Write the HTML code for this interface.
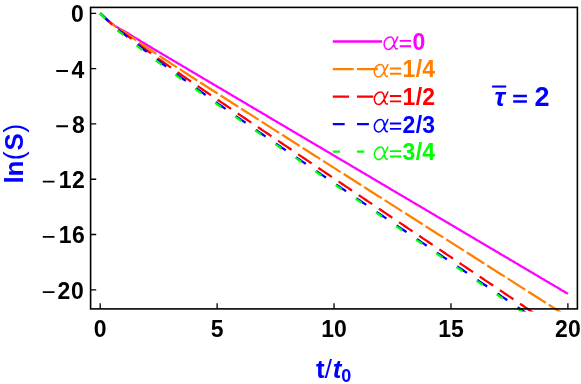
<!DOCTYPE html>
<html><head><meta charset="utf-8"><title>ln(S) vs t/t0</title>
<style>
html,body{margin:0;padding:0;background:#fff;}
body{width:581px;height:384px;overflow:hidden;font-family:"Liberation Sans",sans-serif;}
svg{display:block;will-change:transform;transform:translateZ(0);}
</style></head><body>
<svg width="581" height="384" viewBox="0 0 581 384">
<rect width="581" height="384" fill="#fff"/>
<defs><clipPath id="c"><rect x="90.6" y="7.4" width="486.8" height="304.0"/></clipPath></defs>
<g clip-path="url(#c)" fill="none" stroke-width="2.25" stroke-linecap="butt" stroke-linejoin="round">
<polyline stroke="#ff00ff" points="100.20,13.40 101.37,14.45 102.54,15.49 103.71,16.53 104.88,17.57 106.05,18.61 107.22,19.64 108.38,20.67 109.55,21.69 110.72,22.67 111.89,23.62 113.06,24.52 114.23,25.37 115.40,26.16 116.57,26.89 117.74,27.59 118.91,28.25 120.08,28.89 121.25,29.52 122.42,30.16 123.59,30.81 124.75,31.47 125.92,32.15 127.09,32.84 128.26,33.54 129.43,34.25 130.60,34.97 131.77,35.68 132.94,36.40 134.11,37.12 135.28,37.84 136.45,38.55 137.62,39.26 138.79,39.98 139.95,40.69 141.12,41.40 142.29,42.10 143.46,42.81 144.63,43.51 145.80,44.22 146.97,44.92 148.14,45.62 149.31,46.32 150.48,47.02 151.65,47.72 152.82,48.42 153.99,49.12 155.15,49.81 156.32,50.51 157.49,51.21 158.66,51.90 159.83,52.60 161.00,53.29 162.17,53.99 163.34,54.68 164.51,55.38 165.68,56.07 166.85,56.77 168.02,57.46 169.19,58.15 170.36,58.84 171.52,59.54 172.69,60.23 173.86,60.92 175.03,61.62 176.20,62.31 177.37,63.00 178.54,63.69 179.71,64.38 180.88,65.08 182.05,65.77 183.22,66.46 184.39,67.15 185.56,67.84 186.72,68.53 187.89,69.23 189.06,69.92 190.23,70.61 191.40,71.30 192.57,71.99 193.74,72.68 194.91,73.38 196.08,74.07 197.25,74.76 198.42,75.45 199.59,76.14 200.76,76.83 201.92,77.52 203.09,78.21 204.26,78.90 205.43,79.60 206.60,80.29 207.77,80.98 208.94,81.67 210.11,82.36 211.28,83.05 212.45,83.74 213.62,84.43 214.79,85.12 215.96,85.82 217.12,86.51 218.29,87.20 219.46,87.89 220.63,88.58 221.80,89.27 222.97,89.96 224.14,90.65 225.31,91.34 226.48,92.04 227.65,92.73 228.82,93.42 229.99,94.11 231.16,94.80 232.33,95.49 233.49,96.18 234.66,96.87 235.83,97.56 237.00,98.25 238.17,98.95 239.34,99.64 240.51,100.33 241.68,101.02 242.85,101.71 244.02,102.40 245.19,103.09 246.36,103.78 247.53,104.47 248.69,105.16 249.86,105.86 251.03,106.55 252.20,107.24 253.37,107.93 254.54,108.62 255.71,109.31 256.88,110.00 258.05,110.69 259.22,111.38 260.39,112.07 261.56,112.77 262.73,113.46 263.90,114.15 265.06,114.84 266.23,115.53 267.40,116.22 268.57,116.91 269.74,117.60 270.91,118.29 272.08,118.98 273.25,119.68 274.42,120.37 275.59,121.06 276.76,121.75 277.93,122.44 279.10,123.13 280.26,123.82 281.43,124.51 282.60,125.20 283.77,125.89 284.94,126.59 286.11,127.28 287.28,127.97 288.45,128.66 289.62,129.35 290.79,130.04 291.96,130.73 293.13,131.42 294.30,132.11 295.46,132.80 296.63,133.50 297.80,134.19 298.97,134.88 300.14,135.57 301.31,136.26 302.48,136.95 303.65,137.64 304.82,138.33 305.99,139.02 307.16,139.71 308.33,140.41 309.50,141.10 310.67,141.79 311.83,142.48 313.00,143.17 314.17,143.86 315.34,144.55 316.51,145.24 317.68,145.93 318.85,146.62 320.02,147.32 321.19,148.01 322.36,148.70 323.53,149.39 324.70,150.08 325.87,150.77 327.03,151.46 328.20,152.15 329.37,152.84 330.54,153.53 331.71,154.23 332.88,154.92 334.05,155.61 335.22,156.30 336.39,156.99 337.56,157.68 338.73,158.37 339.90,159.06 341.07,159.75 342.23,160.44 343.40,161.14 344.57,161.83 345.74,162.52 346.91,163.21 348.08,163.90 349.25,164.59 350.42,165.28 351.59,165.97 352.76,166.66 353.93,167.35 355.10,168.05 356.27,168.74 357.44,169.43 358.60,170.12 359.77,170.81 360.94,171.50 362.11,172.19 363.28,172.88 364.45,173.57 365.62,174.26 366.79,174.96 367.96,175.65 369.13,176.34 370.30,177.03 371.47,177.72 372.64,178.41 373.80,179.10 374.97,179.79 376.14,180.48 377.31,181.17 378.48,181.87 379.65,182.56 380.82,183.25 381.99,183.94 383.16,184.63 384.33,185.32 385.50,186.01 386.67,186.70 387.84,187.39 389.00,188.08 390.17,188.78 391.34,189.47 392.51,190.16 393.68,190.85 394.85,191.54 396.02,192.23 397.19,192.92 398.36,193.61 399.53,194.30 400.70,194.99 401.87,195.69 403.04,196.38 404.20,197.07 405.37,197.76 406.54,198.45 407.71,199.14 408.88,199.83 410.05,200.52 411.22,201.21 412.39,201.90 413.56,202.60 414.73,203.29 415.90,203.98 417.07,204.67 418.24,205.36 419.41,206.05 420.57,206.74 421.74,207.43 422.91,208.12 424.08,208.81 425.25,209.51 426.42,210.20 427.59,210.89 428.76,211.58 429.93,212.27 431.10,212.96 432.27,213.65 433.44,214.34 434.61,215.03 435.77,215.72 436.94,216.42 438.11,217.11 439.28,217.80 440.45,218.49 441.62,219.18 442.79,219.87 443.96,220.56 445.13,221.25 446.30,221.94 447.47,222.63 448.64,223.33 449.81,224.02 450.98,224.71 452.14,225.40 453.31,226.09 454.48,226.78 455.65,227.47 456.82,228.16 457.99,228.85 459.16,229.54 460.33,230.24 461.50,230.93 462.67,231.62 463.84,232.31 465.01,233.00 466.18,233.69 467.34,234.38 468.51,235.07 469.68,235.76 470.85,236.45 472.02,237.15 473.19,237.84 474.36,238.53 475.53,239.22 476.70,239.91 477.87,240.60 479.04,241.29 480.21,241.98 481.38,242.67 482.54,243.36 483.71,244.06 484.88,244.75 486.05,245.44 487.22,246.13 488.39,246.82 489.56,247.51 490.73,248.20 491.90,248.89 493.07,249.58 494.24,250.27 495.41,250.97 496.58,251.66 497.75,252.35 498.91,253.04 500.08,253.73 501.25,254.42 502.42,255.11 503.59,255.80 504.76,256.49 505.93,257.18 507.10,257.88 508.27,258.57 509.44,259.26 510.61,259.95 511.78,260.64 512.95,261.33 514.11,262.02 515.28,262.71 516.45,263.40 517.62,264.09 518.79,264.79 519.96,265.48 521.13,266.17 522.30,266.86 523.47,267.55 524.64,268.24 525.81,268.93 526.98,269.62 528.15,270.31 529.31,271.00 530.48,271.70 531.65,272.39 532.82,273.08 533.99,273.77 535.16,274.46 536.33,275.15 537.50,275.84 538.67,276.53 539.84,277.22 541.01,277.91 542.18,278.61 543.35,279.30 544.52,279.99 545.68,280.68 546.85,281.37 548.02,282.06 549.19,282.75 550.36,283.44 551.53,284.13 552.70,284.82 553.87,285.52 555.04,286.21 556.21,286.90 557.38,287.59 558.55,288.28 559.72,288.97 560.88,289.66 562.05,290.35 563.22,291.04 564.39,291.73 565.56,292.43 566.73,293.12 567.90,293.81"/>
<polyline stroke="#ff8000" stroke-dasharray="20.8 3.52" points="100.20,13.40 101.37,14.39 102.54,15.40 103.71,16.41 104.88,17.44 106.05,18.49 107.22,19.54 108.38,20.60 109.55,21.65 110.72,22.68 111.89,23.68 113.06,24.64 114.23,25.55 115.40,26.41 116.57,27.22 117.74,27.99 118.91,28.73 120.08,29.46 121.25,30.18 122.42,30.90 123.59,31.64 124.75,32.40 125.92,33.16 127.09,33.95 128.26,34.74 129.43,35.55 130.60,36.35 131.77,37.17 132.94,37.98 134.11,38.79 135.28,39.60 136.45,40.41 137.62,41.21 138.79,42.02 139.95,42.82 141.12,43.62 142.29,44.41 143.46,45.21 144.63,46.00 145.80,46.79 146.97,47.58 148.14,48.37 149.31,49.15 150.48,49.94 151.65,50.72 152.82,51.50 153.99,52.28 155.15,53.06 156.32,53.83 157.49,54.61 158.66,55.38 159.83,56.16 161.00,56.93 162.17,57.70 163.34,58.47 164.51,59.24 165.68,60.01 166.85,60.77 168.02,61.54 169.19,62.30 170.36,63.07 171.52,63.83 172.69,64.59 173.86,65.36 175.03,66.12 176.20,66.88 177.37,67.64 178.54,68.40 179.71,69.16 180.88,69.92 182.05,70.67 183.22,71.43 184.39,72.19 185.56,72.95 186.72,73.70 187.89,74.46 189.06,75.21 190.23,75.97 191.40,76.72 192.57,77.48 193.74,78.23 194.91,78.98 196.08,79.74 197.25,80.49 198.42,81.24 199.59,81.99 200.76,82.74 201.92,83.50 203.09,84.25 204.26,85.00 205.43,85.75 206.60,86.50 207.77,87.25 208.94,88.00 210.11,88.75 211.28,89.50 212.45,90.25 213.62,91.00 214.79,91.75 215.96,92.50 217.12,93.25 218.29,93.99 219.46,94.74 220.63,95.49 221.80,96.24 222.97,96.99 224.14,97.74 225.31,98.48 226.48,99.23 227.65,99.98 228.82,100.73 229.99,101.48 231.16,102.22 232.33,102.97 233.49,103.72 234.66,104.47 235.83,105.21 237.00,105.96 238.17,106.71 239.34,107.45 240.51,108.20 241.68,108.95 242.85,109.69 244.02,110.44 245.19,111.19 246.36,111.93 247.53,112.68 248.69,113.43 249.86,114.17 251.03,114.92 252.20,115.67 253.37,116.41 254.54,117.16 255.71,117.90 256.88,118.65 258.05,119.40 259.22,120.14 260.39,120.89 261.56,121.63 262.73,122.38 263.90,123.13 265.06,123.87 266.23,124.62 267.40,125.36 268.57,126.11 269.74,126.86 270.91,127.60 272.08,128.35 273.25,129.09 274.42,129.84 275.59,130.58 276.76,131.33 277.93,132.08 279.10,132.82 280.26,133.57 281.43,134.31 282.60,135.06 283.77,135.80 284.94,136.55 286.11,137.30 287.28,138.04 288.45,138.79 289.62,139.53 290.79,140.28 291.96,141.02 293.13,141.77 294.30,142.51 295.46,143.26 296.63,144.00 297.80,144.75 298.97,145.50 300.14,146.24 301.31,146.99 302.48,147.73 303.65,148.48 304.82,149.22 305.99,149.97 307.16,150.71 308.33,151.46 309.50,152.20 310.67,152.95 311.83,153.70 313.00,154.44 314.17,155.19 315.34,155.93 316.51,156.68 317.68,157.42 318.85,158.17 320.02,158.91 321.19,159.66 322.36,160.40 323.53,161.15 324.70,161.89 325.87,162.64 327.03,163.38 328.20,164.13 329.37,164.88 330.54,165.62 331.71,166.37 332.88,167.11 334.05,167.86 335.22,168.60 336.39,169.35 337.56,170.09 338.73,170.84 339.90,171.58 341.07,172.33 342.23,173.07 343.40,173.82 344.57,174.56 345.74,175.31 346.91,176.05 348.08,176.80 349.25,177.55 350.42,178.29 351.59,179.04 352.76,179.78 353.93,180.53 355.10,181.27 356.27,182.02 357.44,182.76 358.60,183.51 359.77,184.25 360.94,185.00 362.11,185.74 363.28,186.49 364.45,187.23 365.62,187.98 366.79,188.72 367.96,189.47 369.13,190.21 370.30,190.96 371.47,191.71 372.64,192.45 373.80,193.20 374.97,193.94 376.14,194.69 377.31,195.43 378.48,196.18 379.65,196.92 380.82,197.67 381.99,198.41 383.16,199.16 384.33,199.90 385.50,200.65 386.67,201.39 387.84,202.14 389.00,202.88 390.17,203.63 391.34,204.37 392.51,205.12 393.68,205.87 394.85,206.61 396.02,207.36 397.19,208.10 398.36,208.85 399.53,209.59 400.70,210.34 401.87,211.08 403.04,211.83 404.20,212.57 405.37,213.32 406.54,214.06 407.71,214.81 408.88,215.55 410.05,216.30 411.22,217.04 412.39,217.79 413.56,218.53 414.73,219.28 415.90,220.02 417.07,220.77 418.24,221.52 419.41,222.26 420.57,223.01 421.74,223.75 422.91,224.50 424.08,225.24 425.25,225.99 426.42,226.73 427.59,227.48 428.76,228.22 429.93,228.97 431.10,229.71 432.27,230.46 433.44,231.20 434.61,231.95 435.77,232.69 436.94,233.44 438.11,234.18 439.28,234.93 440.45,235.67 441.62,236.42 442.79,237.17 443.96,237.91 445.13,238.66 446.30,239.40 447.47,240.15 448.64,240.89 449.81,241.64 450.98,242.38 452.14,243.13 453.31,243.87 454.48,244.62 455.65,245.36 456.82,246.11 457.99,246.85 459.16,247.60 460.33,248.34 461.50,249.09 462.67,249.83 463.84,250.58 465.01,251.33 466.18,252.07 467.34,252.82 468.51,253.56 469.68,254.31 470.85,255.05 472.02,255.80 473.19,256.54 474.36,257.29 475.53,258.03 476.70,258.78 477.87,259.52 479.04,260.27 480.21,261.01 481.38,261.76 482.54,262.50 483.71,263.25 484.88,263.99 486.05,264.74 487.22,265.48 488.39,266.23 489.56,266.98 490.73,267.72 491.90,268.47 493.07,269.21 494.24,269.96 495.41,270.70 496.58,271.45 497.75,272.19 498.91,272.94 500.08,273.68 501.25,274.43 502.42,275.17 503.59,275.92 504.76,276.66 505.93,277.41 507.10,278.15 508.27,278.90 509.44,279.64 510.61,280.39 511.78,281.13 512.95,281.88 514.11,282.63 515.28,283.37 516.45,284.12 517.62,284.86 518.79,285.61 519.96,286.35 521.13,287.10 522.30,287.84 523.47,288.59 524.64,289.33 525.81,290.08 526.98,290.82 528.15,291.57 529.31,292.31 530.48,293.06 531.65,293.80 532.82,294.55 533.99,295.29 535.16,296.04 536.33,296.78 537.50,297.53 538.67,298.28 539.84,299.02 541.01,299.77 542.18,300.51 543.35,301.26 544.52,302.00 545.68,302.75 546.85,303.49 548.02,304.24 549.19,304.98 550.36,305.73 551.53,306.47 552.70,307.22 553.87,307.96 555.04,308.71 556.21,309.45 557.38,310.20 558.55,310.94 559.72,311.69 560.88,312.44 562.05,313.18 563.22,313.93 564.39,314.67 565.56,315.42 566.73,316.16 567.90,316.91"/>
<polyline stroke="#ff0000" stroke-dasharray="16.3 8.02" points="100.20,13.40 101.37,14.46 102.54,15.52 103.71,16.60 104.88,17.70 106.05,18.81 107.22,19.93 108.38,21.06 109.55,22.18 110.72,23.28 111.89,24.35 113.06,25.38 114.23,26.36 115.40,27.29 116.57,28.18 117.74,29.02 118.91,29.83 120.08,30.63 121.25,31.42 122.42,32.22 123.59,33.03 124.75,33.86 125.92,34.70 127.09,35.56 128.26,36.42 129.43,37.30 130.60,38.18 131.77,39.06 132.94,39.94 134.11,40.82 135.28,41.70 136.45,42.58 137.62,43.46 138.79,44.33 139.95,45.20 141.12,46.07 142.29,46.94 143.46,47.80 144.63,48.66 145.80,49.52 146.97,50.37 148.14,51.23 149.31,52.08 150.48,52.93 151.65,53.78 152.82,54.62 153.99,55.47 155.15,56.31 156.32,57.15 157.49,57.99 158.66,58.83 159.83,59.66 161.00,60.50 162.17,61.33 163.34,62.16 164.51,62.99 165.68,63.82 166.85,64.65 168.02,65.47 169.19,66.30 170.36,67.12 171.52,67.94 172.69,68.76 173.86,69.58 175.03,70.40 176.20,71.22 177.37,72.04 178.54,72.86 179.71,73.67 180.88,74.49 182.05,75.30 183.22,76.11 184.39,76.92 185.56,77.74 186.72,78.55 187.89,79.36 189.06,80.17 190.23,80.97 191.40,81.78 192.57,82.59 193.74,83.40 194.91,84.20 196.08,85.01 197.25,85.81 198.42,86.62 199.59,87.42 200.76,88.22 201.92,89.03 203.09,89.83 204.26,90.63 205.43,91.43 206.60,92.23 207.77,93.03 208.94,93.83 210.11,94.63 211.28,95.43 212.45,96.23 213.62,97.03 214.79,97.83 215.96,98.62 217.12,99.42 218.29,100.22 219.46,101.02 220.63,101.81 221.80,102.61 222.97,103.41 224.14,104.20 225.31,105.00 226.48,105.79 227.65,106.59 228.82,107.38 229.99,108.18 231.16,108.97 232.33,109.76 233.49,110.56 234.66,111.35 235.83,112.15 237.00,112.94 238.17,113.73 239.34,114.53 240.51,115.32 241.68,116.11 242.85,116.90 244.02,117.70 245.19,118.49 246.36,119.28 247.53,120.07 248.69,120.86 249.86,121.65 251.03,122.45 252.20,123.24 253.37,124.03 254.54,124.82 255.71,125.61 256.88,126.40 258.05,127.19 259.22,127.98 260.39,128.77 261.56,129.56 262.73,130.35 263.90,131.14 265.06,131.93 266.23,132.72 267.40,133.51 268.57,134.30 269.74,135.09 270.91,135.88 272.08,136.67 273.25,137.46 274.42,138.25 275.59,139.04 276.76,139.83 277.93,140.62 279.10,141.41 280.26,142.20 281.43,142.99 282.60,143.78 283.77,144.57 284.94,145.36 286.11,146.15 287.28,146.93 288.45,147.72 289.62,148.51 290.79,149.30 291.96,150.09 293.13,150.88 294.30,151.67 295.46,152.46 296.63,153.24 297.80,154.03 298.97,154.82 300.14,155.61 301.31,156.40 302.48,157.19 303.65,157.98 304.82,158.76 305.99,159.55 307.16,160.34 308.33,161.13 309.50,161.92 310.67,162.71 311.83,163.49 313.00,164.28 314.17,165.07 315.34,165.86 316.51,166.65 317.68,167.43 318.85,168.22 320.02,169.01 321.19,169.80 322.36,170.59 323.53,171.37 324.70,172.16 325.87,172.95 327.03,173.74 328.20,174.53 329.37,175.31 330.54,176.10 331.71,176.89 332.88,177.68 334.05,178.47 335.22,179.25 336.39,180.04 337.56,180.83 338.73,181.62 339.90,182.41 341.07,183.19 342.23,183.98 343.40,184.77 344.57,185.56 345.74,186.34 346.91,187.13 348.08,187.92 349.25,188.71 350.42,189.49 351.59,190.28 352.76,191.07 353.93,191.86 355.10,192.65 356.27,193.43 357.44,194.22 358.60,195.01 359.77,195.80 360.94,196.58 362.11,197.37 363.28,198.16 364.45,198.95 365.62,199.73 366.79,200.52 367.96,201.31 369.13,202.10 370.30,202.89 371.47,203.67 372.64,204.46 373.80,205.25 374.97,206.04 376.14,206.82 377.31,207.61 378.48,208.40 379.65,209.19 380.82,209.97 381.99,210.76 383.16,211.55 384.33,212.34 385.50,213.12 386.67,213.91 387.84,214.70 389.00,215.49 390.17,216.27 391.34,217.06 392.51,217.85 393.68,218.64 394.85,219.42 396.02,220.21 397.19,221.00 398.36,221.79 399.53,222.57 400.70,223.36 401.87,224.15 403.04,224.94 404.20,225.72 405.37,226.51 406.54,227.30 407.71,228.09 408.88,228.87 410.05,229.66 411.22,230.45 412.39,231.24 413.56,232.02 414.73,232.81 415.90,233.60 417.07,234.39 418.24,235.17 419.41,235.96 420.57,236.75 421.74,237.54 422.91,238.32 424.08,239.11 425.25,239.90 426.42,240.69 427.59,241.47 428.76,242.26 429.93,243.05 431.10,243.84 432.27,244.62 433.44,245.41 434.61,246.20 435.77,246.99 436.94,247.77 438.11,248.56 439.28,249.35 440.45,250.14 441.62,250.92 442.79,251.71 443.96,252.50 445.13,253.29 446.30,254.07 447.47,254.86 448.64,255.65 449.81,256.44 450.98,257.22 452.14,258.01 453.31,258.80 454.48,259.59 455.65,260.37 456.82,261.16 457.99,261.95 459.16,262.74 460.33,263.52 461.50,264.31 462.67,265.10 463.84,265.89 465.01,266.67 466.18,267.46 467.34,268.25 468.51,269.04 469.68,269.82 470.85,270.61 472.02,271.40 473.19,272.19 474.36,272.97 475.53,273.76 476.70,274.55 477.87,275.34 479.04,276.12 480.21,276.91 481.38,277.70 482.54,278.49 483.71,279.27 484.88,280.06 486.05,280.85 487.22,281.64 488.39,282.42 489.56,283.21 490.73,284.00 491.90,284.79 493.07,285.57 494.24,286.36 495.41,287.15 496.58,287.94 497.75,288.72 498.91,289.51 500.08,290.30 501.25,291.09 502.42,291.87 503.59,292.66 504.76,293.45 505.93,294.24 507.10,295.02 508.27,295.81 509.44,296.60 510.61,297.39 511.78,298.17 512.95,298.96 514.11,299.75 515.28,300.54 516.45,301.32 517.62,302.11 518.79,302.90 519.96,303.69 521.13,304.47 522.30,305.26 523.47,306.05 524.64,306.84 525.81,307.62 526.98,308.41 528.15,309.20 529.31,309.98 530.48,310.77 531.65,311.56 532.82,312.35 533.99,313.13 535.16,313.92 536.33,314.71 537.50,315.50 538.67,316.28 539.84,317.07 541.01,317.86 542.18,318.65 543.35,319.43 544.52,320.22 545.68,321.01 546.85,321.80 548.02,322.58 549.19,323.37 550.36,324.16 551.53,324.95 552.70,325.73 553.87,326.52 555.04,327.31 556.21,328.10 557.38,328.88 558.55,329.67 559.72,330.46 560.88,331.25 562.05,332.03 563.22,332.82 564.39,333.61 565.56,334.40 566.73,335.18 567.90,335.97"/>
<polyline stroke="#0000ff" stroke-dasharray="11.9 12.42" points="100.20,13.40 101.37,14.49 102.54,15.59 103.71,16.70 104.88,17.83 106.05,18.98 107.22,20.14 108.38,21.31 109.55,22.46 110.72,23.61 111.89,24.72 113.06,25.79 114.23,26.82 115.40,27.79 116.57,28.72 117.74,29.61 118.91,30.46 120.08,31.31 121.25,32.15 122.42,32.99 123.59,33.85 124.75,34.72 125.92,35.61 127.09,36.51 128.26,37.42 129.43,38.34 130.60,39.27 131.77,40.20 132.94,41.13 134.11,42.05 135.28,42.98 136.45,43.90 137.62,44.83 138.79,45.74 139.95,46.66 141.12,47.57 142.29,48.48 143.46,49.39 144.63,50.29 145.80,51.20 146.97,52.10 148.14,52.99 149.31,53.89 150.48,54.78 151.65,55.67 152.82,56.56 153.99,57.44 155.15,58.33 156.32,59.21 157.49,60.09 158.66,60.97 159.83,61.84 161.00,62.71 162.17,63.59 163.34,64.45 164.51,65.32 165.68,66.19 166.85,67.05 168.02,67.92 169.19,68.78 170.36,69.64 171.52,70.49 172.69,71.35 173.86,72.20 175.03,73.06 176.20,73.91 177.37,74.76 178.54,75.61 179.71,76.46 180.88,77.30 182.05,78.15 183.22,78.99 184.39,79.83 185.56,80.67 186.72,81.51 187.89,82.35 189.06,83.19 190.23,84.03 191.40,84.86 192.57,85.70 193.74,86.53 194.91,87.37 196.08,88.20 197.25,89.03 198.42,89.86 199.59,90.69 200.76,91.51 201.92,92.34 203.09,93.17 204.26,93.99 205.43,94.82 206.60,95.64 207.77,96.46 208.94,97.29 210.11,98.11 211.28,98.93 212.45,99.75 213.62,100.57 214.79,101.39 215.96,102.21 217.12,103.02 218.29,103.84 219.46,104.66 220.63,105.47 221.80,106.29 222.97,107.10 224.14,107.92 225.31,108.73 226.48,109.54 227.65,110.35 228.82,111.17 229.99,111.98 231.16,112.79 232.33,113.60 233.49,114.41 234.66,115.22 235.83,116.03 237.00,116.83 238.17,117.64 239.34,118.45 240.51,119.26 241.68,120.06 242.85,120.87 244.02,121.68 245.19,122.48 246.36,123.29 247.53,124.09 248.69,124.90 249.86,125.70 251.03,126.50 252.20,127.31 253.37,128.11 254.54,128.91 255.71,129.72 256.88,130.52 258.05,131.32 259.22,132.12 260.39,132.92 261.56,133.73 262.73,134.53 263.90,135.33 265.06,136.13 266.23,136.93 267.40,137.73 268.57,138.53 269.74,139.33 270.91,140.13 272.08,140.93 273.25,141.72 274.42,142.52 275.59,143.32 276.76,144.12 277.93,144.92 279.10,145.72 280.26,146.51 281.43,147.31 282.60,148.11 283.77,148.90 284.94,149.70 286.11,150.50 287.28,151.29 288.45,152.09 289.62,152.89 290.79,153.68 291.96,154.48 293.13,155.27 294.30,156.07 295.46,156.87 296.63,157.66 297.80,158.46 298.97,159.25 300.14,160.05 301.31,160.84 302.48,161.64 303.65,162.43 304.82,163.23 305.99,164.02 307.16,164.81 308.33,165.61 309.50,166.40 310.67,167.20 311.83,167.99 313.00,168.78 314.17,169.58 315.34,170.37 316.51,171.16 317.68,171.96 318.85,172.75 320.02,173.54 321.19,174.34 322.36,175.13 323.53,175.92 324.70,176.72 325.87,177.51 327.03,178.30 328.20,179.09 329.37,179.89 330.54,180.68 331.71,181.47 332.88,182.26 334.05,183.06 335.22,183.85 336.39,184.64 337.56,185.43 338.73,186.22 339.90,187.02 341.07,187.81 342.23,188.60 343.40,189.39 344.57,190.18 345.74,190.98 346.91,191.77 348.08,192.56 349.25,193.35 350.42,194.14 351.59,194.93 352.76,195.72 353.93,196.52 355.10,197.31 356.27,198.10 357.44,198.89 358.60,199.68 359.77,200.47 360.94,201.26 362.11,202.05 363.28,202.84 364.45,203.64 365.62,204.43 366.79,205.22 367.96,206.01 369.13,206.80 370.30,207.59 371.47,208.38 372.64,209.17 373.80,209.96 374.97,210.75 376.14,211.54 377.31,212.33 378.48,213.12 379.65,213.92 380.82,214.71 381.99,215.50 383.16,216.29 384.33,217.08 385.50,217.87 386.67,218.66 387.84,219.45 389.00,220.24 390.17,221.03 391.34,221.82 392.51,222.61 393.68,223.40 394.85,224.19 396.02,224.98 397.19,225.77 398.36,226.56 399.53,227.35 400.70,228.14 401.87,228.93 403.04,229.72 404.20,230.51 405.37,231.30 406.54,232.09 407.71,232.88 408.88,233.67 410.05,234.46 411.22,235.25 412.39,236.04 413.56,236.83 414.73,237.62 415.90,238.41 417.07,239.20 418.24,239.99 419.41,240.78 420.57,241.57 421.74,242.36 422.91,243.15 424.08,243.94 425.25,244.73 426.42,245.52 427.59,246.31 428.76,247.10 429.93,247.89 431.10,248.68 432.27,249.47 433.44,250.26 434.61,251.05 435.77,251.84 436.94,252.63 438.11,253.42 439.28,254.21 440.45,255.00 441.62,255.79 442.79,256.58 443.96,257.37 445.13,258.16 446.30,258.95 447.47,259.74 448.64,260.53 449.81,261.32 450.98,262.11 452.14,262.90 453.31,263.69 454.48,264.48 455.65,265.27 456.82,266.06 457.99,266.85 459.16,267.63 460.33,268.42 461.50,269.21 462.67,270.00 463.84,270.79 465.01,271.58 466.18,272.37 467.34,273.16 468.51,273.95 469.68,274.74 470.85,275.53 472.02,276.32 473.19,277.11 474.36,277.90 475.53,278.69 476.70,279.48 477.87,280.27 479.04,281.06 480.21,281.85 481.38,282.64 482.54,283.43 483.71,284.22 484.88,285.01 486.05,285.80 487.22,286.59 488.39,287.37 489.56,288.16 490.73,288.95 491.90,289.74 493.07,290.53 494.24,291.32 495.41,292.11 496.58,292.90 497.75,293.69 498.91,294.48 500.08,295.27 501.25,296.06 502.42,296.85 503.59,297.64 504.76,298.43 505.93,299.22 507.10,300.01 508.27,300.80 509.44,301.59 510.61,302.38 511.78,303.16 512.95,303.95 514.11,304.74 515.28,305.53 516.45,306.32 517.62,307.11 518.79,307.90 519.96,308.69 521.13,309.48 522.30,310.27 523.47,311.06 524.64,311.85 525.81,312.64 526.98,313.43 528.15,314.22 529.31,315.01 530.48,315.80 531.65,316.59 532.82,317.38 533.99,318.16 535.16,318.95 536.33,319.74 537.50,320.53 538.67,321.32 539.84,322.11 541.01,322.90 542.18,323.69 543.35,324.48 544.52,325.27 545.68,326.06 546.85,326.85 548.02,327.64 549.19,328.43 550.36,329.22 551.53,330.01 552.70,330.80 553.87,331.59 555.04,332.37 556.21,333.16 557.38,333.95 558.55,334.74 559.72,335.53 560.88,336.32 562.05,337.11 563.22,337.90 564.39,338.69 565.56,339.48 566.73,340.27 567.90,341.06"/>
<polyline stroke="#00ff00" stroke-dasharray="7.3 17.02" points="100.20,13.40 101.37,14.58 102.54,15.77 103.71,16.97 104.88,18.18 106.05,19.41 107.22,20.64 108.38,21.87 109.55,23.10 110.72,24.31 111.89,25.48 113.06,26.61 114.23,27.68 115.40,28.71 116.57,29.68 117.74,30.61 118.91,31.51 120.08,32.40 121.25,33.27 122.42,34.15 123.59,35.04 124.75,35.94 125.92,36.86 127.09,37.79 128.26,38.72 129.43,39.67 130.60,40.61 131.77,41.56 132.94,42.51 134.11,43.46 135.28,44.40 136.45,45.34 137.62,46.27 138.79,47.20 139.95,48.13 141.12,49.05 142.29,49.97 143.46,50.88 144.63,51.79 145.80,52.70 146.97,53.60 148.14,54.51 149.31,55.40 150.48,56.30 151.65,57.19 152.82,58.08 153.99,58.96 155.15,59.85 156.32,60.73 157.49,61.61 158.66,62.48 159.83,63.35 161.00,64.22 162.17,65.09 163.34,65.96 164.51,66.82 165.68,67.68 166.85,68.54 168.02,69.40 169.19,70.26 170.36,71.11 171.52,71.96 172.69,72.81 173.86,73.66 175.03,74.51 176.20,75.35 177.37,76.20 178.54,77.04 179.71,77.88 180.88,78.72 182.05,79.56 183.22,80.40 184.39,81.23 185.56,82.07 186.72,82.90 187.89,83.73 189.06,84.56 190.23,85.39 191.40,86.22 192.57,87.05 193.74,87.87 194.91,88.70 196.08,89.52 197.25,90.35 198.42,91.17 199.59,91.99 200.76,92.81 201.92,93.63 203.09,94.45 204.26,95.27 205.43,96.08 206.60,96.90 207.77,97.72 208.94,98.53 210.11,99.35 211.28,100.16 212.45,100.98 213.62,101.79 214.79,102.60 215.96,103.41 217.12,104.22 218.29,105.03 219.46,105.84 220.63,106.65 221.80,107.46 222.97,108.27 224.14,109.08 225.31,109.89 226.48,110.69 227.65,111.50 228.82,112.31 229.99,113.11 231.16,113.92 232.33,114.72 233.49,115.53 234.66,116.33 235.83,117.14 237.00,117.94 238.17,118.74 239.34,119.55 240.51,120.35 241.68,121.15 242.85,121.95 244.02,122.76 245.19,123.56 246.36,124.36 247.53,125.16 248.69,125.96 249.86,126.76 251.03,127.56 252.20,128.36 253.37,129.16 254.54,129.96 255.71,130.76 256.88,131.56 258.05,132.36 259.22,133.16 260.39,133.96 261.56,134.75 262.73,135.55 263.90,136.35 265.06,137.15 266.23,137.95 267.40,138.74 268.57,139.54 269.74,140.34 270.91,141.14 272.08,141.93 273.25,142.73 274.42,143.53 275.59,144.32 276.76,145.12 277.93,145.92 279.10,146.71 280.26,147.51 281.43,148.31 282.60,149.10 283.77,149.90 284.94,150.69 286.11,151.49 287.28,152.29 288.45,153.08 289.62,153.88 290.79,154.67 291.96,155.47 293.13,156.26 294.30,157.06 295.46,157.85 296.63,158.65 297.80,159.44 298.97,160.24 300.14,161.03 301.31,161.83 302.48,162.62 303.65,163.42 304.82,164.21 305.99,165.01 307.16,165.80 308.33,166.59 309.50,167.39 310.67,168.18 311.83,168.98 313.00,169.77 314.17,170.57 315.34,171.36 316.51,172.15 317.68,172.95 318.85,173.74 320.02,174.53 321.19,175.33 322.36,176.12 323.53,176.92 324.70,177.71 325.87,178.50 327.03,179.30 328.20,180.09 329.37,180.88 330.54,181.68 331.71,182.47 332.88,183.27 334.05,184.06 335.22,184.85 336.39,185.65 337.56,186.44 338.73,187.23 339.90,188.03 341.07,188.82 342.23,189.61 343.40,190.41 344.57,191.20 345.74,191.99 346.91,192.79 348.08,193.58 349.25,194.37 350.42,195.17 351.59,195.96 352.76,196.75 353.93,197.54 355.10,198.34 356.27,199.13 357.44,199.92 358.60,200.72 359.77,201.51 360.94,202.30 362.11,203.10 363.28,203.89 364.45,204.68 365.62,205.48 366.79,206.27 367.96,207.06 369.13,207.85 370.30,208.65 371.47,209.44 372.64,210.23 373.80,211.03 374.97,211.82 376.14,212.61 377.31,213.40 378.48,214.20 379.65,214.99 380.82,215.78 381.99,216.58 383.16,217.37 384.33,218.16 385.50,218.95 386.67,219.75 387.84,220.54 389.00,221.33 390.17,222.13 391.34,222.92 392.51,223.71 393.68,224.50 394.85,225.30 396.02,226.09 397.19,226.88 398.36,227.68 399.53,228.47 400.70,229.26 401.87,230.05 403.04,230.85 404.20,231.64 405.37,232.43 406.54,233.22 407.71,234.02 408.88,234.81 410.05,235.60 411.22,236.40 412.39,237.19 413.56,237.98 414.73,238.77 415.90,239.57 417.07,240.36 418.24,241.15 419.41,241.94 420.57,242.74 421.74,243.53 422.91,244.32 424.08,245.11 425.25,245.91 426.42,246.70 427.59,247.49 428.76,248.29 429.93,249.08 431.10,249.87 432.27,250.66 433.44,251.46 434.61,252.25 435.77,253.04 436.94,253.83 438.11,254.63 439.28,255.42 440.45,256.21 441.62,257.00 442.79,257.80 443.96,258.59 445.13,259.38 446.30,260.18 447.47,260.97 448.64,261.76 449.81,262.55 450.98,263.35 452.14,264.14 453.31,264.93 454.48,265.72 455.65,266.52 456.82,267.31 457.99,268.10 459.16,268.89 460.33,269.69 461.50,270.48 462.67,271.27 463.84,272.06 465.01,272.86 466.18,273.65 467.34,274.44 468.51,275.23 469.68,276.03 470.85,276.82 472.02,277.61 473.19,278.41 474.36,279.20 475.53,279.99 476.70,280.78 477.87,281.58 479.04,282.37 480.21,283.16 481.38,283.95 482.54,284.75 483.71,285.54 484.88,286.33 486.05,287.12 487.22,287.92 488.39,288.71 489.56,289.50 490.73,290.29 491.90,291.09 493.07,291.88 494.24,292.67 495.41,293.46 496.58,294.26 497.75,295.05 498.91,295.84 500.08,296.63 501.25,297.43 502.42,298.22 503.59,299.01 504.76,299.81 505.93,300.60 507.10,301.39 508.27,302.18 509.44,302.98 510.61,303.77 511.78,304.56 512.95,305.35 514.11,306.15 515.28,306.94 516.45,307.73 517.62,308.52 518.79,309.32 519.96,310.11 521.13,310.90 522.30,311.69 523.47,312.49 524.64,313.28 525.81,314.07 526.98,314.86 528.15,315.66 529.31,316.45 530.48,317.24 531.65,318.03 532.82,318.83 533.99,319.62 535.16,320.41 536.33,321.21 537.50,322.00 538.67,322.79 539.84,323.58 541.01,324.38 542.18,325.17 543.35,325.96 544.52,326.75 545.68,327.55 546.85,328.34 548.02,329.13 549.19,329.92 550.36,330.72 551.53,331.51 552.70,332.30 553.87,333.09 555.04,333.89 556.21,334.68 557.38,335.47 558.55,336.26 559.72,337.06 560.88,337.85 562.05,338.64 563.22,339.43 564.39,340.23 565.56,341.02 566.73,341.81 567.90,342.60"/>
</g>
<g stroke="#000" fill="none">
<rect x="90.60" y="7.40" width="486.80" height="301.50" stroke-width="1.6"/>
<path d="M90.60 13.40h5.6M90.60 68.68h5.6M90.60 123.96h5.6M90.60 179.24h5.6M90.60 234.52h5.6M90.60 289.80h5.6M100.20 308.90v-5.6M217.12 308.90v-5.6M334.05 308.90v-5.6M450.98 308.90v-5.6M567.90 308.90v-5.6" stroke-width="1.3"/>
</g>
<g font-family="Liberation Sans, sans-serif" font-weight="bold" font-size="23" fill="#000">
<text transform="translate(83.80 22.30) scale(1 1.015)" text-anchor="end">0</text>
<text transform="translate(84.20 77.58) scale(1 1.015)" text-anchor="end">4</text>
<text transform="translate(84.90 132.86) scale(1 1.015)" text-anchor="end">8</text>
<text transform="translate(84.90 188.14) scale(1 1.015)" text-anchor="end"><tspan letter-spacing="0.6">1</tspan>2</text>
<text transform="translate(84.90 243.42) scale(1 1.015)" text-anchor="end"><tspan letter-spacing="0.6">1</tspan>6</text>
<text transform="translate(83.80 298.70) scale(1 1.015)" text-anchor="end"><tspan letter-spacing="0.6">2</tspan>0</text>
<path d="M56.30 70.98h11.7M56.30 126.26h11.7M42.80 181.54h11.7M42.80 236.82h11.7M42.80 292.10h11.7" stroke="#000" stroke-width="1.8" fill="none"/>
<text transform="translate(100.20 337.1) scale(1 1.015)" text-anchor="middle">0</text>
<text transform="translate(217.12 337.1) scale(1 1.015)" text-anchor="middle">5</text>
<text transform="translate(334.05 337.1) scale(1 1.015)" text-anchor="middle">10</text>
<text transform="translate(450.98 337.1) scale(1 1.015)" text-anchor="middle">15</text>
<text transform="translate(567.90 337.1) scale(1 1.015)" text-anchor="middle">20</text>
</g>
<g font-family="Liberation Sans, sans-serif" font-weight="bold" fill="#0000ff">
<text transform="translate(23.3 183.6) rotate(-90)" font-size="26">ln<tspan font-weight="normal" font-size="27" dx="0.3">(</tspan><tspan dx="0.6">S</tspan><tspan font-weight="normal" font-size="27" dx="0.6">)</tspan></text>
<text x="316" y="377.8" font-size="26">t<tspan font-weight="normal">/</tspan><tspan font-style="italic" dx="0.8">t</tspan><tspan font-size="18" dy="4.4" dx="-0.2">0</tspan></text>
<text y="105.6" font-size="26"><tspan x="494.5" font-style="italic">τ</tspan><tspan x="534.6" font-size="27">2</tspan></text>
<path d="M513.2 95.9H526.9M513.2 101.5H526.9" stroke="#0000ff" stroke-width="2.5" fill="none"/>
<path d="M492.1 86.55H506.2" stroke="#0000ff" stroke-width="2.1" fill="none"/>
</g>
<path d="M332.8 41.50H382" stroke="#ff00ff" stroke-width="2.3" fill="none"/>
<path transform="translate(383.90 49.40)" d="M13.75 -12.5C11.5 -7.6 8.7 0 4.7 0C2 0 0.2 -2.2 0.25 -5.5C0.3 -9.2 3.2 -12.5 6.6 -12.5C8.8 -12.5 9.9 -10.2 10.3 -6.25C10.6 -3.5 10.9 0.3 13.4 -0.6" stroke="#ff00ff" stroke-width="1.55" fill="none" stroke-linecap="round"/>
<path d="M399.70 40.90h11.3M399.70 46.25h11.3" stroke="#ff00ff" stroke-width="1.9" fill="none"/>
<text transform="translate(412.40 49.90) scale(1 1.035)" font-family="Liberation Sans, sans-serif" font-size="23" font-weight="bold" letter-spacing="0.3" fill="#ff00ff">0</text>
<path d="M332.8 69.05H381.2" stroke="#ff8000" stroke-width="2.3" stroke-dasharray="20.8 3.4" fill="none"/>
<path transform="translate(374.10 76.95)" d="M13.75 -12.5C11.5 -7.6 8.7 0 4.7 0C2 0 0.2 -2.2 0.25 -5.5C0.3 -9.2 3.2 -12.5 6.6 -12.5C8.8 -12.5 9.9 -10.2 10.3 -6.25C10.6 -3.5 10.9 0.3 13.4 -0.6" stroke="#ff8000" stroke-width="1.55" fill="none" stroke-linecap="round"/>
<path d="M389.90 68.45h11.3M389.90 73.80h11.3" stroke="#ff8000" stroke-width="1.9" fill="none"/>
<text transform="translate(402.60 77.45) scale(1 1.035)" font-family="Liberation Sans, sans-serif" font-size="23" font-weight="bold" letter-spacing="0.3" fill="#ff8000">1/4</text>
<path d="M332.8 96.60H381.2" stroke="#ff0000" stroke-width="2.3" stroke-dasharray="16.3 7.9" fill="none"/>
<path transform="translate(374.10 104.50)" d="M13.75 -12.5C11.5 -7.6 8.7 0 4.7 0C2 0 0.2 -2.2 0.25 -5.5C0.3 -9.2 3.2 -12.5 6.6 -12.5C8.8 -12.5 9.9 -10.2 10.3 -6.25C10.6 -3.5 10.9 0.3 13.4 -0.6" stroke="#ff0000" stroke-width="1.55" fill="none" stroke-linecap="round"/>
<path d="M389.90 96.00h11.3M389.90 101.35h11.3" stroke="#ff0000" stroke-width="1.9" fill="none"/>
<text transform="translate(402.60 105.00) scale(1 1.035)" font-family="Liberation Sans, sans-serif" font-size="23" font-weight="bold" letter-spacing="0.3" fill="#ff0000">1/2</text>
<path d="M332.8 124.15H381.2" stroke="#0000ff" stroke-width="2.3" stroke-dasharray="11.9 12.3" fill="none"/>
<path transform="translate(374.10 132.05)" d="M13.75 -12.5C11.5 -7.6 8.7 0 4.7 0C2 0 0.2 -2.2 0.25 -5.5C0.3 -9.2 3.2 -12.5 6.6 -12.5C8.8 -12.5 9.9 -10.2 10.3 -6.25C10.6 -3.5 10.9 0.3 13.4 -0.6" stroke="#0000ff" stroke-width="1.55" fill="none" stroke-linecap="round"/>
<path d="M389.90 123.55h11.3M389.90 128.90h11.3" stroke="#0000ff" stroke-width="1.9" fill="none"/>
<text transform="translate(402.60 132.55) scale(1 1.035)" font-family="Liberation Sans, sans-serif" font-size="23" font-weight="bold" letter-spacing="0.3" fill="#0000ff">2/3</text>
<path d="M332.8 151.70H381.2" stroke="#00ff00" stroke-width="2.3" stroke-dasharray="7.3 16.9" fill="none"/>
<path transform="translate(374.10 159.60)" d="M13.75 -12.5C11.5 -7.6 8.7 0 4.7 0C2 0 0.2 -2.2 0.25 -5.5C0.3 -9.2 3.2 -12.5 6.6 -12.5C8.8 -12.5 9.9 -10.2 10.3 -6.25C10.6 -3.5 10.9 0.3 13.4 -0.6" stroke="#00ff00" stroke-width="1.55" fill="none" stroke-linecap="round"/>
<path d="M389.90 151.10h11.3M389.90 156.45h11.3" stroke="#00ff00" stroke-width="1.9" fill="none"/>
<text transform="translate(402.60 160.10) scale(1 1.035)" font-family="Liberation Sans, sans-serif" font-size="23" font-weight="bold" letter-spacing="0.3" fill="#00ff00">3/4</text>
</svg>
</body></html>
